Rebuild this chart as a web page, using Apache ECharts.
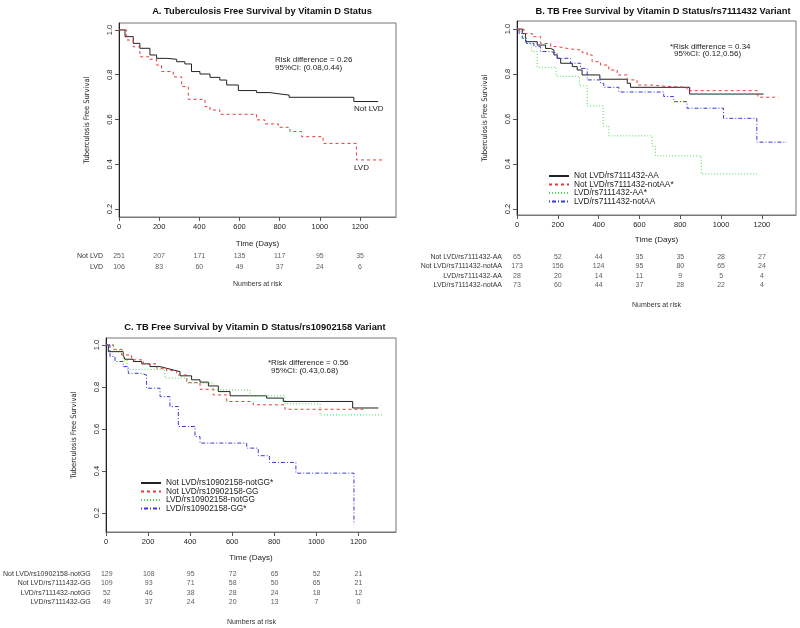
<!DOCTYPE html>
<html>
<head>
<meta charset="utf-8">
<script src="https://cdn.jsdelivr.net/npm/echarts@6/dist/echarts.min.js"></script>
<style>
  html, body { margin: 0; padding: 0; background: #fff; }
  #chart { width: 800px; height: 628px; }
</style>
</head>
<body>
<div id="chart"></div>
<script>
// time points shared by the axes and the numbers-at-risk tables
const days = [0, 200, 400, 600, 800, 1000, 1200];
const survTicks = [0.2, 0.4, 0.6, 0.8, 1.0];

// A. vitamin D status, [day, survival]
const aNotLvd = [[0,1],[30,0.97],[71,0.94],[104,0.918],[154,0.888],[187,0.873],[237,0.869],[287,0.858],[328,0.848],[361,0.814],[403,0.803],[453,0.788],[502,0.776],[536,0.754],[594,0.729],[685,0.72],[751,0.712],[817,0.709],[847,0.699],[1169,0.68],[1290,0.68]];
const aLvd = [[0,1],[38,0.955],[71,0.925],[104,0.88],[154,0.869],[187,0.843],[212,0.814],[270,0.79],[312,0.747],[345,0.69],[428,0.657],[453,0.642],[502,0.623],[685,0.598],[726,0.58],[793,0.565],[851,0.546],[909,0.523],[1016,0.493],[1182,0.419],[1323,0.419]];

// B. vitamin D status / rs7111432
const bNotLvdAA = [[0,1],[26,0.98],[42,0.944],[99,0.929],[140,0.914],[165,0.907],[181,0.885],[197,0.87],[214,0.848],[271,0.833],[295,0.818],[319,0.796],[406,0.777],[540,0.759],[556,0.741],[846,0.711],[1208,0.711]];
const bNotLvdNotAA = [[0,1],[34,0.98],[75,0.966],[116,0.936],[165,0.922],[197,0.914],[246,0.91],[279,0.907],[319,0.895],[344,0.885],[368,0.855],[409,0.84],[450,0.818],[491,0.796],[540,0.774],[588,0.751],[670,0.747],[703,0.741],[833,0.726],[1180,0.697],[1281,0.697]];
const bLvdAA = [[0,1],[10,0.988],[26,0.966],[42,0.936],[72,0.9],[99,0.83],[192,0.79],[306,0.747],[344,0.658],[422,0.569],[450,0.525],[662,0.48],[678,0.436],[903,0.356],[1183,0.356]];
const bLvdNotAA = [[0,1],[10,0.98],[26,0.959],[47,0.936],[83,0.922],[116,0.9],[165,0.892],[197,0.87],[262,0.848],[311,0.825],[344,0.774],[409,0.759],[425,0.741],[499,0.72],[719,0.7],[768,0.677],[833,0.648],[1012,0.603],[1175,0.497],[1322,0.497]];

// C. vitamin D status / rs10902158
const cNotLvdNotGG = [[0,1],[11,0.968],[82,0.952],[90,0.932],[130,0.921],[170,0.91],[209,0.897],[257,0.889],[288,0.881],[320,0.873],[352,0.853],[407,0.834],[447,0.823],[487,0.805],[534,0.778],[590,0.758],[764,0.747],[843,0.731],[1173,0.7],[1295,0.7]];
const cNotLvdGG = [[0,1],[35,0.979],[74,0.952],[122,0.929],[178,0.91],[241,0.889],[288,0.878],[336,0.857],[384,0.821],[447,0.789],[510,0.762],[574,0.731],[685,0.726],[700,0.715],[851,0.694],[1224,0.694]];
const cLvdNotGG = [[0,1],[35,0.976],[82,0.929],[100,0.884],[280,0.842],[384,0.818],[510,0.786],[685,0.758],[851,0.72],[1018,0.667],[1319,0.667]];
const cLvdGG = [[0,1],[19,0.945],[43,0.921],[82,0.897],[106,0.865],[162,0.857],[193,0.794],[257,0.754],[304,0.707],[344,0.612],[423,0.564],[447,0.533],[669,0.509],[724,0.473],[777,0.441],[903,0.39],[1179,0.145]];

// numbers at risk
const aRows = ['Not LVD', 'LVD'];
const aRisk = [[251,207,171,135,117,95,35],[106,83,60,49,37,24,6]];
const bRows = ['Not LVD/rs7111432-AA', 'Not LVD/rs7111432-notAA', 'LVD/rs7111432-AA', 'LVD/rs7111432-notAA'];
const bRisk = [[65,52,44,35,35,28,27],[173,156,124,95,80,65,24],[28,20,14,11,9,5,4],[73,60,44,37,28,22,4]];
const cRows = ['Not LVD/rs10902158-notGG', 'Not LVD/rs7111432-GG', 'LVD/rs7111432-notGG', 'LVD/rs7111432-GG'];
const cRisk = [[129,108,95,72,65,52,21],[109,93,71,58,50,65,21],[52,46,38,28,24,18,12],[49,37,24,20,13,7,0]];

const bNames = ['Not LVD/rs7111432-AA', 'Not LVD/rs7111432-notAA*', 'LVD/rs7111432-AA*', 'LVD/rs7111432-notAA'];
const cNames = ['Not LVD/rs10902158-notGG*', 'Not LVD/rs10902158-GG', 'LVD/rs10902158-notGG', 'LVD/rs10902158-GG*'];

const BLACK = '#222', RED = '#e8393a', GREEN = '#4fd64f', BLUE = '#3a3ad8';
const SOLID = 'solid', DASHED = [3, 3], DOTTED = [1, 2], DOTDASH = [1, 2, 4, 2];
const groupColors = [BLACK, RED, GREEN, BLUE];
const groupTypes = [SOLID, DASHED, DOTTED, DOTDASH];
const FONT = 'Liberation Sans, Arial, sans-serif';

let myChart = echarts.init(document.getElementById('chart'));

function kmLine(name, data, gi, k) {
  return {
    name: name,
    type: 'line',
    step: 'end',
    xAxisIndex: gi,
    yAxisIndex: gi,
    data: data,
    symbol: 'none',
    showSymbol: false,
    lineStyle: { width: 1, color: groupColors[k], type: groupTypes[k] },
    itemStyle: { color: groupColors[k] },
    z: 3
  };
}

function plotX(gi, max, gap) {
  return {
    gridIndex: gi, type: 'value', min: 0, max: max,
    name: 'Time (Days)', nameLocation: 'middle', nameGap: gap,
    nameTextStyle: { fontSize: 8, color: '#222', fontFamily: FONT },
    axisLine: { onZero: false, lineStyle: { color: '#777' } },
    axisTick: { length: 4, customValues: days, lineStyle: { color: '#555' } },
    axisLabel: { customValues: days, fontSize: 7.5, margin: 6, color: '#222', fontFamily: FONT,
      formatter: v => String(v) },
    splitLine: { show: false }
  };
}

function plotY(gi, min, max) {
  return {
    gridIndex: gi, type: 'value', min: min, max: max,
    name: 'Tuberculosis Free Survival', nameLocation: 'middle', nameRotate: 90, nameGap: 28,
    nameTextStyle: { fontSize: 7.5, color: '#222', fontFamily: 'Liberation Sans Narrow, DejaVu Sans Condensed, sans-serif' },
    axisLine: { show: true, onZero: false, lineStyle: { color: '#222' } },
    axisTick: { show: true, length: 4, customValues: survTicks, lineStyle: { color: '#555' } },
    axisLabel: { customValues: survTicks, rotate: 90, fontSize: 7.5, margin: 5, color: '#222', fontFamily: FONT,
      formatter: v => v.toFixed(1) },
    splitLine: { show: false }
  };
}

function riskX(gi, max, gap) {
  return {
    gridIndex: gi, type: 'value', min: 0, max: max,
    name: 'Numbers at risk', nameLocation: 'middle', nameGap: gap,
    nameTextStyle: { fontSize: 7, color: '#333', fontFamily: FONT },
    axisLine: { show: false }, axisTick: { show: false }, axisLabel: { show: false },
    splitLine: { show: false }
  };
}

function riskY(gi, rows, margin) {
  return {
    gridIndex: gi, type: 'category', data: rows, inverse: true,
    axisLine: { show: false }, axisTick: { show: false }, splitLine: { show: false },
    axisLabel: { interval: 0, fontSize: 7, margin: margin, color: '#333', fontFamily: FONT }
  };
}

function riskSeries(gi, rows, risk) {
  let data = [];
  rows.forEach((r, i) => {
    days.forEach((d, j) => data.push([d, r, risk[i][j]]));
  });
  return {
    type: 'scatter', xAxisIndex: gi, yAxisIndex: gi, data: data,
    symbolSize: 0, silent: true,
    label: { show: true, position: 'inside', formatter: p => p.value[2],
      fontSize: 7, color: '#333', fontFamily: FONT }
  };
}

const plotGrid = { show: true, borderColor: '#777', borderWidth: 1, backgroundColor: 'transparent' };

function note(text, x, y) {
  return { type: 'text', left: x, top: y,
    style: { text: text, fontSize: 8, fill: '#222', fontFamily: FONT } };
}

let titleStyle = { fontSize: 9.3, fontWeight: 'bold', color: '#111', fontFamily: FONT };

// transparent marker: the legend keeps only the dashed line sample
let legendBase = {
  orient: 'vertical', itemWidth: 20, itemHeight: 7, itemGap: 0.5,
  itemStyle: { color: 'rgba(0,0,0,0)', borderWidth: 0 },
  textStyle: { fontSize: 8.3, color: '#222', lineHeight: 7, fontFamily: FONT }
};

let option = {
  animation: false,
  backgroundColor: '#fff',
  title: [
    { text: 'A. Tuberculosis Free Survival by Vitamin D Status', left: 257, top: 2, textAlign: 'center', textStyle: titleStyle },
    { text: 'B. TB Free Survival by Vitamin D Status/rs7111432 Variant', left: 658, top: 2, textAlign: 'center', textStyle: titleStyle },
    { text: 'C. TB Free Survival by Vitamin D Status/rs10902158 Variant', left: 250, top: 318, textAlign: 'center', textStyle: titleStyle }
  ],
  legend: [
    Object.assign({ data: bNames, left: 543, top: 167 }, legendBase),
    Object.assign({ data: cNames, left: 135, top: 474 }, legendBase)
  ],
  grid: [
    Object.assign({ left: 119, top: 23, width: 277, height: 194 }, plotGrid),
    Object.assign({ left: 517, top: 21, width: 279, height: 194 }, plotGrid),
    Object.assign({ left: 106, top: 338, width: 290, height: 194 }, plotGrid),
    { left: 119, top: 251, width: 277, height: 22 },
    { left: 517, top: 252, width: 279, height: 38 },
    { left: 106, top: 569, width: 290, height: 38 }
  ],
  xAxis: [
    plotX(0, 1379, 23), plotX(1, 1367, 21), plotX(2, 1379, 22),
    riskX(3, 1379, 8), riskX(4, 1367, 12), riskX(5, 1379, 12)
  ],
  yAxis: [
    plotY(0, 0.164, 1.031), plotY(1, 0.173, 1.036), plotY(2, 0.11, 1.033),
    riskY(3, aRows, 16), riskY(4, bRows, 15), riskY(5, cRows, 16)
  ],
  graphic: [
    note('Risk difference = 0.26', 275, 56),
    note('95%CI: (0.08,0.44)', 275, 64),
    note('Not LVD', 354, 105),
    note('LVD', 354, 164),
    note('*Risk difference = 0.34', 670, 43),
    note('95%CI: (0.12,0.56)', 674, 50),
    note('*Risk difference = 0.56', 268, 359),
    note('95%CI: (0.43,0.68)', 271, 367)
  ],
  series: [
    kmLine('Not LVD', aNotLvd, 0, 0),
    kmLine('LVD', aLvd, 0, 1),
    kmLine(bNames[0], bNotLvdAA, 1, 0),
    kmLine(bNames[1], bNotLvdNotAA, 1, 1),
    kmLine(bNames[2], bLvdAA, 1, 2),
    kmLine(bNames[3], bLvdNotAA, 1, 3),
    kmLine(cNames[0], cNotLvdNotGG, 2, 0),
    kmLine(cNames[1], cNotLvdGG, 2, 1),
    kmLine(cNames[2], cLvdNotGG, 2, 2),
    kmLine(cNames[3], cLvdGG, 2, 3),
    riskSeries(3, aRows, aRisk),
    riskSeries(4, bRows, bRisk),
    riskSeries(5, cRows, cRisk)
  ]
};

myChart.setOption(option, true);
window.addEventListener('resize', () => {
  myChart.resize();
});
</script>
</body>
</html>
